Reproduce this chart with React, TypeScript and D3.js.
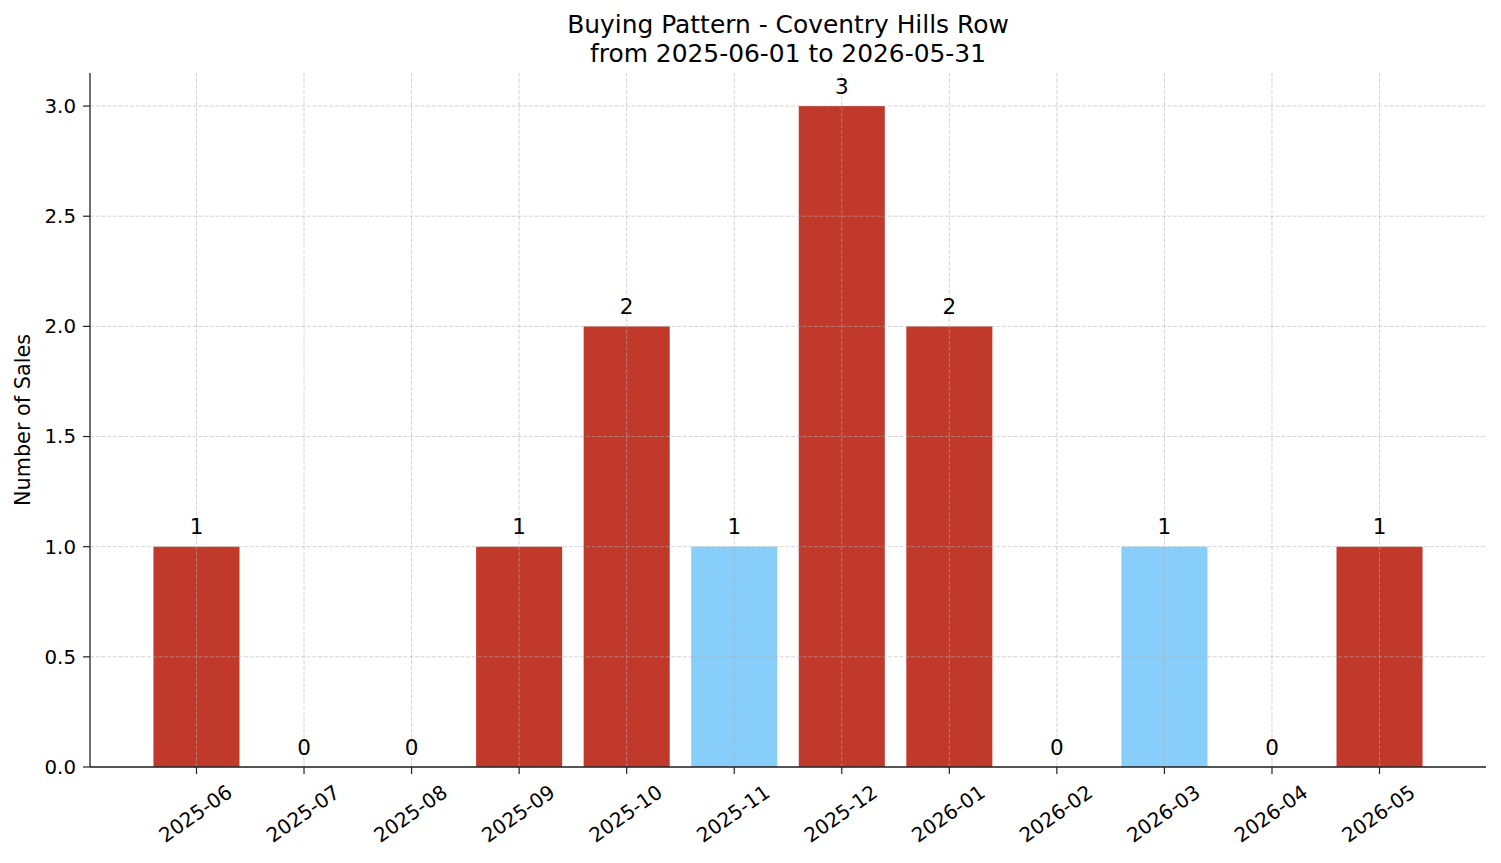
import React from 'react';
import * as d3 from 'd3';

// chart data
const months = ['2025-06', '2025-07', '2025-08', '2025-09', '2025-10', '2025-11',
  '2025-12', '2026-01', '2026-02', '2026-03', '2026-04', '2026-05'];
const sales = [1, 0, 0, 1, 2, 1, 3, 2, 0, 1, 0, 1];
// months drawn in the lighter colour
const highlighted = [false, false, false, false, false, true, false, false, false, true, false, false];
const yTicks = [0, 0.5, 1, 1.5, 2, 2.5, 3];
const title = ['Buying Pattern - Coventry Hills Row', 'from 2025-06-01 to 2026-05-31'];
const yLabel = 'Number of Sales';

const W = 1501;
const H = 863;
const margin = { top: 73, right: 15, bottom: 96, left: 90 };
const FONT = 'DejaVu Sans, Verdana, sans-serif';

export default function App() {
  const left = margin.left;
  const right = W - margin.right;
  const top = margin.top;
  const bottom = H - margin.bottom;

  const barW = 0.8;
  const n = months.length;
  const lo = -barW / 2;
  const hi = n - 1 + barW / 2;
  const pad = (hi - lo) * 0.05;
  const x = d3.scaleLinear().domain([lo - pad, hi + pad]).range([left, right]);
  const y = d3.scaleLinear().domain([0, 3.15]).range([bottom, top]);
  const color = d3.scaleOrdinal<string, string>().domain(['false', 'true']).range(['#c0392b', '#87cefa']);

  const tickFont = 20;
  const angle = 35;
  const rad = (angle * Math.PI) / 180;

  return (
    <svg width={W} height={H} style={{ position: 'absolute', left: 0, top: 0 }} fontFamily={FONT}>
      <rect width={W} height={H} fill="#fff" />

      {/* title */}
      <text x={(left + right) / 2} y={33} textAnchor="middle" fontSize={24.9} fill="#000">{title[0]}</text>
      <text x={(left + right) / 2} y={62} textAnchor="middle" fontSize={24.9} fill="#000">{title[1]}</text>

      {/* bars */}
      {sales.map((v, i) => (
        <rect key={'b' + i}
          x={x(i - barW / 2)} width={x(barW) - x(0)}
          y={y(v)} height={y(0) - y(v)}
          fill={color(String(highlighted[i]))} />
      ))}

      {/* grid, drawn over the bars */}
      <g stroke="#b0b0b0" strokeOpacity={0.55} strokeWidth={1} strokeDasharray="4,1.7">
        {yTicks.map(t => (
          <line key={'gy' + t} x1={left} x2={right} y1={y(t)} y2={y(t)} />
        ))}
        {months.map((m, i) => (
          <line key={'gx' + m} x1={x(i)} x2={x(i)} y1={top} y2={bottom} />
        ))}
      </g>

      {/* value labels */}
      {sales.map((v, i) => (
        <text key={'v' + i} x={x(i)} y={y(v) - 12.5} textAnchor="middle" fontSize={21.5} fill="#000">{v}</text>
      ))}

      {/* y axis */}
      <g>
        {yTicks.map(t => (
          <g key={'yt' + t}>
            <line x1={left - 7} x2={left} y1={y(t)} y2={y(t)} stroke="#222" strokeWidth={1.2} />
            <text x={left - 14} y={y(t)} dy="0.35em" textAnchor="end" fontSize={19.8} fill="#000">{t.toFixed(1)}</text>
          </g>
        ))}
      </g>

      {/* x axis */}
      <g>
        {months.map((m, i) => {
          const w = m.length * 0.6 * tickFont;
          const h = 1.164 * tickFont;
          const bh = w * Math.sin(rad) + h * Math.cos(rad);
          const cy = bottom + 13 + bh / 2;
          return (
            <g key={'xt' + m}>
              <line x1={x(i)} x2={x(i)} y1={bottom} y2={bottom + 7} stroke="#222" strokeWidth={1.2} />
              <text x={x(i) - 1} y={cy} dy="0.35em" textAnchor="middle" fontSize={tickFont} fill="#000"
                transform={`rotate(${-angle},${x(i) - 1},${cy})`}>{m}</text>
            </g>
          );
        })}
      </g>

      {/* spines */}
      <line x1={left} x2={left} y1={top} y2={bottom} stroke="#222" strokeWidth={1.3} />
      <line x1={left} x2={right} y1={bottom} y2={bottom} stroke="#222" strokeWidth={1.3} />

      {/* y label */}
      <text transform={`translate(23,${(top + bottom) / 2}) rotate(-90)`} dy="0.35em" textAnchor="middle" fontSize={20.8} fill="#000">{yLabel}</text>
    </svg>
  );
}
